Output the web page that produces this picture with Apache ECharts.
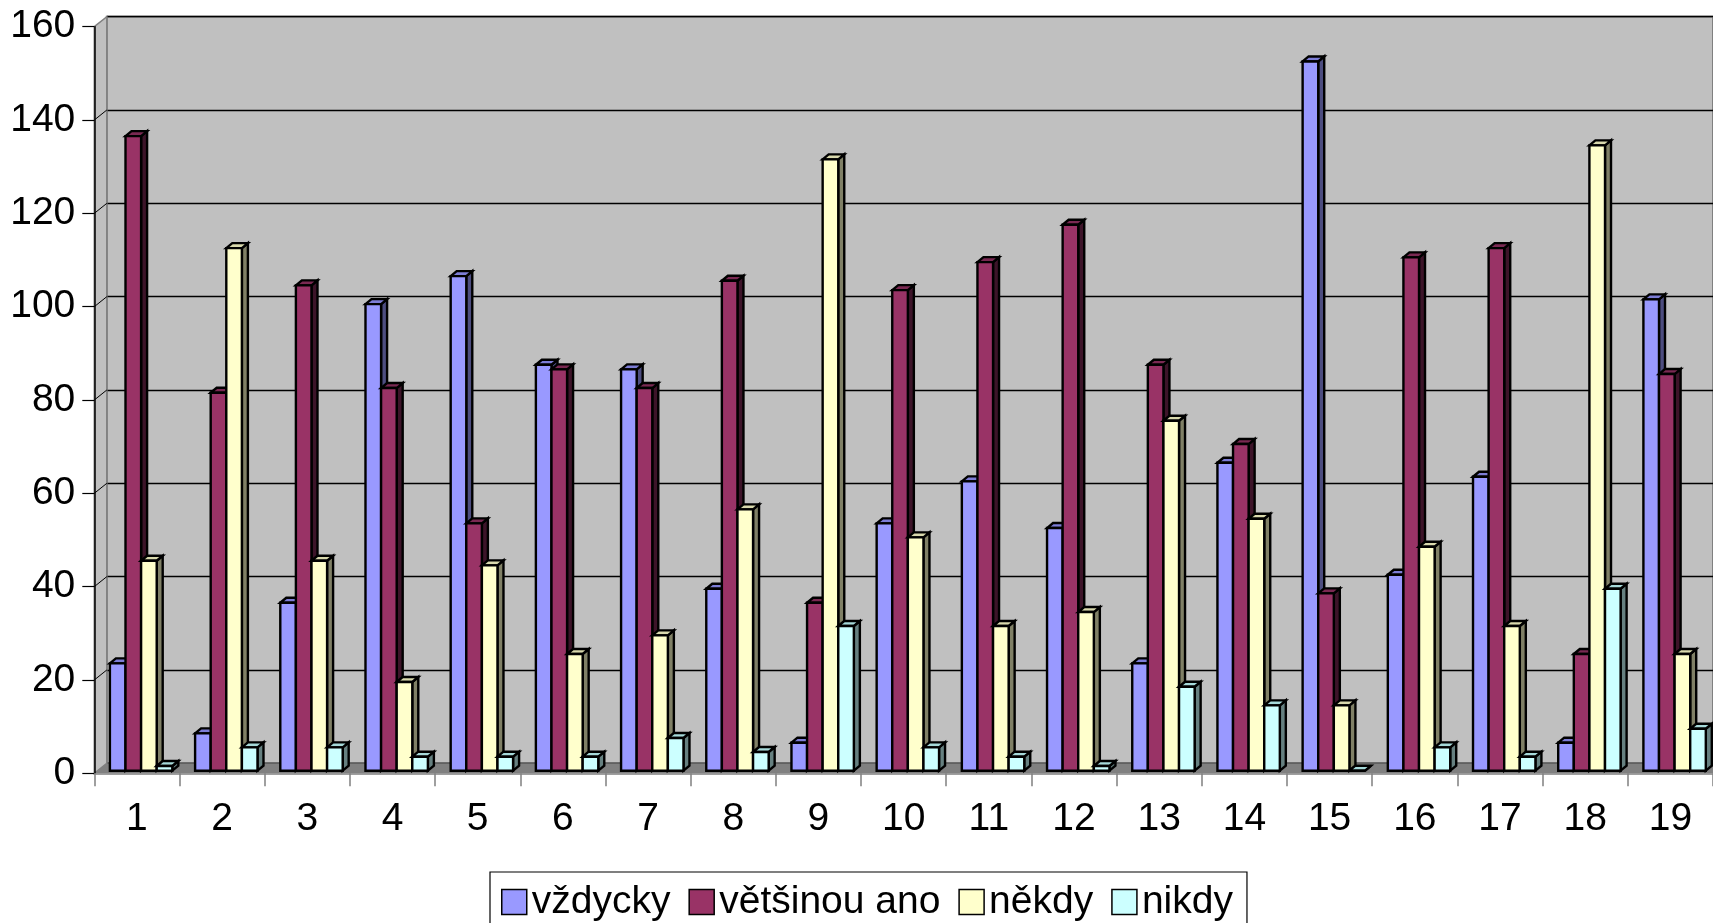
<!DOCTYPE html>
<html>
<head>
<meta charset="utf-8">
<script src="https://cdn.jsdelivr.net/npm/echarts@6/dist/echarts.min.js"></script>
<style>
html,body{margin:0;padding:0;background:#fff;overflow:hidden;}
#chart{width:1713px;height:923px;}
</style>
</head>
<body>
<div id="chart"></div>
<script>
// ---- data ----
const categories = ['1','2','3','4','5','6','7','8','9','10','11','12','13','14','15','16','17','18','19'];
const seriesNames = ['vždycky','většinou ano','někdy','nikdy'];
const vzdycky  = [23, 8, 36, 100, 106, 87, 86, 39, 6, 53, 62, 52, 23, 66, 152, 42, 63, 6, 101];
const vetsinou = [136, 81, 104, 82, 53, 86, 82, 105, 36, 103, 109, 117, 87, 70, 38, 110, 112, 25, 85];
const nekdy    = [45, 112, 45, 19, 44, 25, 29, 56, 131, 50, 31, 34, 75, 54, 14, 48, 31, 134, 25];
const nikdy    = [1, 5, 5, 3, 3, 3, 7, 4, 31, 5, 3, 1, 18, 14, 0, 5, 3, 39, 9];
const yTicks   = [0, 20, 40, 60, 80, 100, 120, 140, 160];

// ---- style ----
const FONT = '"Liberation Sans", Arial, sans-serif';
const colors = [
  {front:'#9999FF', top:'#7d7dd6', side:'#4d4d80'},
  {front:'#993366', top:'#7a2952', side:'#3d1429'},
  {front:'#FFFFCC', top:'#d9d9ad', side:'#808066'},
  {front:'#CCFFFF', top:'#a6d9d9', side:'#668080'}
];
const L = 94.3, T = 26.7, W = 1622.6, H = 746.6; // front plane
const DXW = 12.5, DYW = -10;                     // wall depth
const GROUP_OFFSET = 15.6, BAR_W = 15.6, BAR_DX = 6, BAR_DY = -5, BAR_SHIFT_Y = -2.6, LW = 2.4;

const allData = [vzdycky, vetsinou, nekdy, nikdy];

function makeRender(si){
  const c = colors[si];
  return function(params, api){
    const ci = api.value(0), v = api.value(1);
    const p0 = api.coord([ci, 0]), p1 = api.coord([ci, v]);
    const bw = api.size([1, 0])[0];
    const x = p0[0] - bw/2 + GROUP_OFFSET + si*BAR_W;
    const yb = p0[1] + BAR_SHIFT_Y, yt = p1[1] + BAR_SHIFT_Y;
    const st = {stroke:'#000', lineWidth:LW, lineJoin:'miter'};
    return {type:'group', children:[
      {type:'polygon', shape:{points:[[x+BAR_W,yb],[x+BAR_W+BAR_DX,yb+BAR_DY],[x+BAR_W+BAR_DX,yt+BAR_DY],[x+BAR_W,yt]]},
        style:Object.assign({fill:c.side}, st)},
      {type:'polygon', shape:{points:[[x,yt],[x+BAR_DX,yt+BAR_DY],[x+BAR_W+BAR_DX,yt+BAR_DY],[x+BAR_W,yt]]},
        style:Object.assign({fill:c.top}, st)},
      {type:'rect', shape:{x:x, y:yt, width:BAR_W, height:yb-yt},
        style:Object.assign({fill:c.front}, st)}
    ]};
  };
}

const series = allData.map((arr, si) => ({
  name: seriesNames[si],
  type: 'custom',
  xAxisIndex: 1, yAxisIndex: 1,
  z: 10,
  itemStyle: {color: colors[si].front},
  renderItem: makeRender(si),
  encode: {x: 0, y: 1},
  data: arr.map((v, i) => [i, v])
}));

const chart = echarts.init(document.getElementById('chart'), null, {renderer:'canvas'});
chart.setOption({
  animation: false,
  backgroundColor: '#fff',
  textStyle: {fontFamily: FONT},
  grid: [
    {left: L + DXW, top: T + DYW, width: W, height: H, show: true,
     backgroundColor: '#c0c0c0', borderColor: '#808080', borderWidth: 2, z: 0},
    {left: L, top: T, width: W, height: H, show: false}
  ],
  xAxis: [
    {type:'category', gridIndex:0, data: categories, show:false},
    {type:'category', gridIndex:1, data: categories, z: 5,
     axisLine:{show:true, lineStyle:{color:'#808080', width:1.5}},
     axisTick:{show:true, length:13, interval:0, lineStyle:{color:'#808080', width:1.5}},
     axisLabel:{show:true, interval:0, margin:26, fontSize:39, color:'#000', fontFamily:FONT}}
  ],
  yAxis: [
    {type:'value', gridIndex:0, min:0, max:160, interval:20,
     axisLine:{show:false}, axisTick:{show:false}, axisLabel:{show:false},
     splitLine:{show:true, lineStyle:{color:'#000', width:1.3}}},
    {type:'value', gridIndex:1, min:0, max:160, interval:20, z: 5,
     axisLine:{show:true, lineStyle:{color:'#000', width:1.5}},
     axisTick:{show:true, length:12, lineStyle:{color:'#000', width:1.2}},
     axisLabel:{show:true, margin:19, fontSize:39, color:'#000', fontFamily:FONT},
     splitLine:{show:false}}
  ],
  legend: {
    data: seriesNames,
    left: 490, top: 872,
    orient: 'horizontal',
    icon: 'rect',
    itemWidth: 25, itemHeight: 25, itemGap: 18,
    padding: [10, 14, 20, 11],
    backgroundColor: '#fff',
    borderColor: '#000', borderWidth: 1.2,
    itemStyle: {borderColor:'#000', borderWidth:1.5},
    textStyle: {fontSize: 39, color:'#000', fontFamily: FONT, lineHeight: 40}
  },
  series: series
});

// walls (layout) and side-wall gridlines from the axis scale
const graphics = [];
graphics.push({type:'polygon', z: 1, shape:{points:[[L, T+H],[L+DXW, T+H+DYW],[L+W+DXW+20, T+H+DYW],[L+W+20, T+H]]},
  style:{fill:'#808080'}});
graphics.push({type:'polygon', z: 1, shape:{points:[[L, T],[L+DXW, T+DYW],[L+DXW, T+H+DYW],[L, T+H]]},
  style:{fill:'#c0c0c0', stroke:'#808080', lineWidth:1.5}});
yTicks.forEach(v => {
  const y = chart.convertToPixel({yAxisIndex:1}, v);
  if (v > 0 && v < 160) {
    graphics.push({type:'line', z: 2, shape:{x1:L, y1:y, x2:L+DXW, y2:y+DYW}, style:{stroke:'#000', lineWidth:1}});
  }
});
chart.setOption({graphic: graphics});
</script>
</body>
</html>
